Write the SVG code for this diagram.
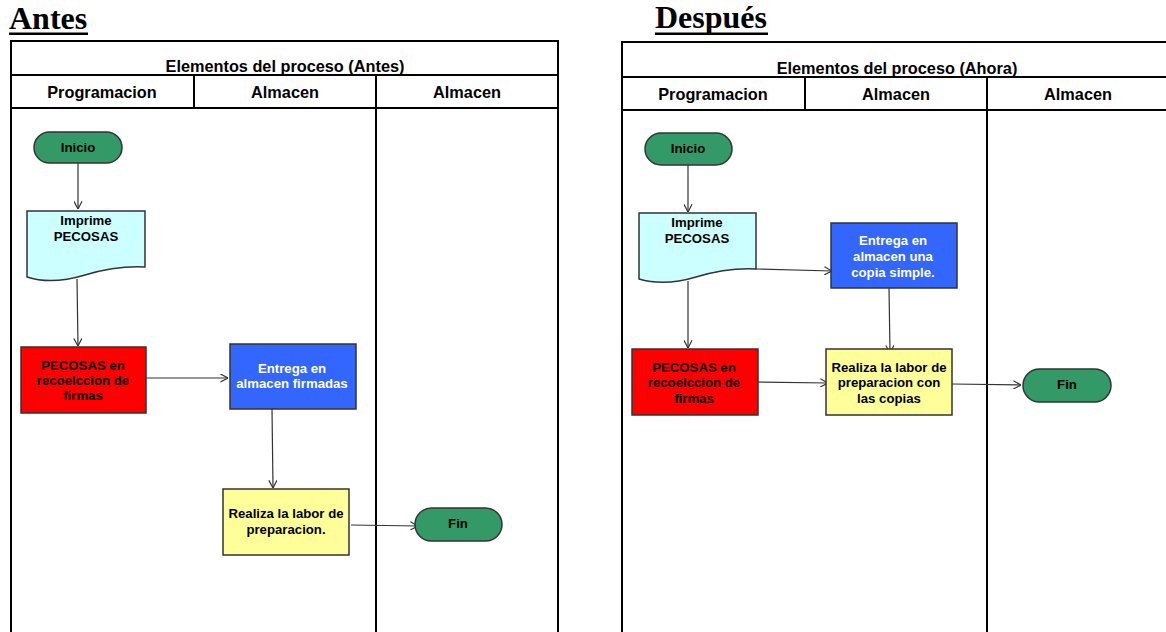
<svg xmlns="http://www.w3.org/2000/svg" width="1166" height="632" viewBox="0 0 1166 632">
<defs>
<marker id="arr" viewBox="0 0 10 10" refX="9.5" refY="5" markerWidth="9" markerHeight="9" markerUnits="userSpaceOnUse" orient="auto">
<path d="M1,0.5 L9.5,5 L1,9.5" fill="none" stroke="#333" stroke-width="1.3"/>
</marker>
<style>
.big{font-family:"Liberation Serif","Times New Roman",serif;font-weight:bold;font-size:32px;fill:#000}
.tbl{fill:none;stroke:#000;stroke-width:2}
.ttl{font-family:"Liberation Sans",Arial,sans-serif;font-weight:bold;font-size:16.3px;fill:#000;text-anchor:middle}
.hdr{font-family:"Liberation Sans",Arial,sans-serif;font-weight:bold;font-size:16.3px;fill:#000;text-anchor:middle}
.nt{font-family:"Liberation Sans",Arial,sans-serif;font-weight:bold;font-size:13.2px;fill:#000;text-anchor:middle}
.wt{fill:#fff}
.term{fill:#339966;stroke:#333;stroke-width:1.5}
.doc{fill:#CCFFFF;stroke:#333;stroke-width:1.5}
.red{fill:#FF0000;stroke:#333;stroke-width:1.5}
.blue{fill:#3366FF;stroke:#333;stroke-width:1.5}
.yel{fill:#FFFF99;stroke:#333;stroke-width:1.5}
.con{fill:none;stroke:#333;stroke-width:1.2;marker-end:url(#arr)}
</style>
</defs>
<rect width="1166" height="632" fill="#fff"/>

<!-- Titles -->
<text class="big" x="9" y="29">Antes</text>
<rect x="9" y="32.5" width="79" height="2.5" fill="#000"/>
<text class="big" x="655" y="28">Después</text>
<rect x="655" y="32.5" width="113" height="2.5" fill="#000"/>

<!-- Left table -->
<g id="table-antes">
<path class="tbl" d="M11,632 V41 H558 V632 M11,75 H558 M11,108 H558 M194,75 V108 M376,75 V632"/>
<text class="ttl" x="285" y="71.5">Elementos del proceso (Antes)</text>
<text class="hdr" x="102" y="98">Programacion</text>
<text class="hdr" x="285" y="98">Almacen</text>
<text class="hdr" x="467" y="98">Almacen</text>
</g>

<!-- Right table -->
<g id="table-despues">
<path class="tbl" d="M622,632 V42 H1172 M1170,42 V632 M622,77 H1172 M622,110 H1172 M805,77 V110 M987,77 V632"/>
<text class="ttl" x="897" y="73.5">Elementos del proceso (Ahora)</text>
<text class="hdr" x="713" y="100">Programacion</text>
<text class="hdr" x="896" y="100">Almacen</text>
<text class="hdr" x="1078" y="100">Almacen</text>
</g>

<!-- Connectors -->
<g id="connectors">
<path class="con" d="M78,163 V209"/>
<path class="con" d="M77,279 L78,346"/>
<path class="con" d="M146,378 H228"/>
<path class="con" d="M272,409 L273,488"/>
<path class="con" d="M351,525 L418,526"/>

<path class="con" d="M688,165 V212"/>
<path class="con" d="M756,269 L832,271"/>
<path class="con" d="M688,281 V348"/>
<path class="con" d="M889,288 L890,353"/>
<path class="con" d="M751,382 L828,383"/>
<path class="con" d="M952,384 L1021,385"/>
</g>

<!-- Left nodes -->
<g id="a-inicio">
<rect class="term" x="34" y="132" width="88" height="31" rx="15.5"/>
<text class="nt" x="78" y="151.5">Inicio</text>
</g>
<g id="a-imprime">
<path class="doc" d="M27,211 H145 V267 C125,266 105,269 85,275 C65,281 45,283 27,277 Z"/>
<text class="nt" x="86" y="224.5">Imprime</text>
<text class="nt" x="86" y="240.5">PECOSAS</text>
</g>
<g id="a-pecosas">
<rect class="red" x="21" y="347" width="125" height="66"/>
<text class="nt" x="83" y="369.5">PECOSAS en</text>
<text class="nt" x="83" y="384.5">recoelccion de</text>
<text class="nt" x="83" y="399.5">firmas</text>
</g>
<g id="a-entrega">
<rect class="blue" x="230" y="344" width="126" height="65"/>
<text class="nt wt" x="292" y="372.5">Entrega en</text>
<text class="nt wt" x="292" y="387.5">almacen firmadas</text>
</g>
<g id="a-realiza">
<rect class="yel" x="223" y="489" width="126" height="66"/>
<text class="nt" x="286" y="517.5">Realiza la labor de</text>
<text class="nt" x="286" y="533.5">preparacion.</text>
</g>
<g id="a-fin">
<rect class="term" x="415" y="508" width="87" height="33" rx="16.5"/>
<text class="nt" x="458" y="527.5">Fin</text>
</g>

<!-- Right nodes -->
<g id="d-inicio">
<rect class="term" x="645" y="133" width="87" height="32" rx="16"/>
<text class="nt" x="688" y="152.5">Inicio</text>
</g>
<g id="d-imprime">
<path class="doc" d="M639,213 H756 V269 C736,268 716,271 696,277 C676,283 656,284 639,279 Z"/>
<text class="nt" x="697" y="226.5">Imprime</text>
<text class="nt" x="697" y="242.5">PECOSAS</text>
</g>
<g id="d-entrega">
<rect class="blue" x="831" y="223" width="126" height="65"/>
<text class="nt wt" x="893" y="244.5">Entrega en</text>
<text class="nt wt" x="893" y="260.5">almacen una</text>
<text class="nt wt" x="893" y="276.5">copia simple.</text>
</g>
<g id="d-pecosas">
<rect class="red" x="632" y="349" width="126" height="66"/>
<text class="nt" x="694" y="371.5">PECOSAS en</text>
<text class="nt" x="694" y="386.5">recoelccion de</text>
<text class="nt" x="694" y="402.5">firmas</text>
</g>
<g id="d-realiza">
<rect class="yel" x="826" y="349" width="126" height="66"/>
<text class="nt" x="889" y="371.5">Realiza la labor de</text>
<text class="nt" x="889" y="386.5">preparacion con</text>
<text class="nt" x="889" y="402.5">las copias</text>
</g>
<g id="d-fin">
<rect class="term" x="1023" y="369" width="88" height="33" rx="16.5"/>
<text class="nt" x="1067" y="388.5">Fin</text>
</g>
</svg>
